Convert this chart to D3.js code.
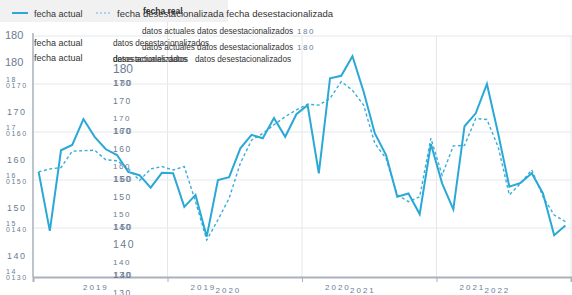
<!DOCTYPE html>
<html>
<head>
<meta charset="utf-8">
<script src="https://cdn.jsdelivr.net/npm/d3@7"></script>
<style>
body { margin: 0; background: #fff; }
svg { display: block; font-family: "Liberation Sans", Arial, sans-serif; }
.lbl { fill: #6b7c93; letter-spacing: 1.5px; font-size: 8px; }
.txt { fill: #333; font-size: 8.2px; }
</style>
</head>
<body>
<svg id="chart" width="572" height="295"></svg>
<script>
// monthly values, Jan 2019 .. Dec 2022
const years = [2019, 2020, 2021, 2022]
const yTicks = [180, 170, 160, 150, 140, 130]
const actual = [
    151.7, 139.4, 156.2, 157.3, 162.7, 159.0, 156.4, 155.2, 151.7, 151.0, 148.4, 151.5,
    151.4, 144.4, 146.9, 138.2, 150.0, 150.6, 156.6, 159.4, 158.7, 162.9, 159.0, 163.7,
    165.6, 151.4, 171.2, 171.7, 175.8, 168.4, 159.7, 155.2, 146.5, 147.2, 142.9, 157.5,
    149.3, 143.9, 161.2, 163.9, 170.0, 159.7, 148.6, 149.4, 151.4, 147.2, 138.5, 140.5
]
const adjusted = [
    151.7, 152.3, 152.6, 156.0, 156.1, 156.2, 154.2, 154.0, 152.4, 149.9, 152.3, 152.8,
    152.1, 152.8, 145.5, 137.5, 141.7, 146.2, 153.5, 158.3, 159.7, 161.5, 163.2, 164.6,
    165.8, 165.6, 167.0, 170.5, 168.7, 165.6, 157.6, 154.5, 146.9, 145.5, 146.5, 158.7,
    151.0, 157.1, 157.2, 162.8, 162.6, 156.9, 146.9, 149.3, 152.1, 146.5, 142.7, 141.3
]
const legendLabels = ['fecha actual', 'fecha desestacionalizada']

const svg = d3.select('#chart')
const color = '#2aa8d6'

const x = d3.scaleLinear().domain([2019, 2023]).range([33, 571])
const y = d3.scaleLinear().domain([130, 180]).range([276, 36])
const t = i => 2019 + (i + 0.5) / 12

// legend band
svg.append('rect').attr('x', 0).attr('y', 0).attr('width', 228).attr('height', 22).attr('fill', '#f1f1f1')

// grid
svg.append('g').selectAll('line').data(yTicks.slice(0, -1)).join('line')
    .attr('x1', 33).attr('x2', 572)
    .attr('y1', d => y(d)).attr('y2', d => y(d))
    .attr('stroke', '#e4e7eb')
svg.append('g').selectAll('line').data([2020, 2021, 2022, 2023]).join('line')
    .attr('x1', d => x(d)).attr('x2', d => x(d))
    .attr('y1', d => d === 2020 ? 22 : 36).attr('y2', 277)
    .attr('stroke', '#e4e7eb')

// axes
const xAxis = svg.append('g').attr('transform', 'translate(0,277)')
    .call(d3.axisBottom(x).tickValues([2019, 2020, 2021, 2022, 2023]).tickSize(5).tickFormat(''))
xAxis.select('.domain').attr('stroke', '#a9b1bb').attr('stroke-width', 2)
xAxis.selectAll('.tick line').attr('stroke', '#a9b1bb')
svg.append('line').attr('x1', 33).attr('x2', 33).attr('y1', 33).attr('y2', 277)
    .attr('stroke', '#a9b1bb').attr('stroke-width', 1.5)

// lines
const line = vals => d3.line().x((d, i) => x(t(i))).y(d => y(d))(vals)
svg.append('path').attr('d', line(adjusted)).attr('fill', 'none')
    .attr('stroke', '#3aaed8').attr('stroke-width', 1.4).attr('stroke-dasharray', '3,2.5')
svg.append('path').attr('d', line(actual)).attr('fill', 'none')
    .attr('stroke', color).attr('stroke-width', 2)

// legend
svg.append('line').attr('x1', 12).attr('x2', 28).attr('y1', 13).attr('y2', 13).attr('stroke', color).attr('stroke-width', 2)
svg.append('line').attr('x1', 96).attr('x2', 112).attr('y1', 13).attr('y2', 13)
    .attr('stroke', '#8fcbe6').attr('stroke-width', 1.5).attr('stroke-dasharray', '2,2')
const txt = (s, px, py, cls = 'txt') => svg.append('text').attr('class', cls).attr('x', px).attr('y', py).text(s)
txt(legendLabels[0], 34, 17).style('font-size', '9px')
txt(legendLabels[1] + ' ' + legendLabels[1], 117, 17).style('font-size', '9.5px')
txt('fecha real', 143, 14).attr('font-weight', 'bold').style('font-size', '8.5px')

// stray label rows
txt('datos actuales datos desestacionalizados', 142, 34)
txt('datos actuales datos desestacionalizados', 142, 50)
txt(legendLabels[0], 34, 46).style('font-size', '9px')
txt(legendLabels[0], 34, 61).style('font-size', '9px')
txt('datos desestacionalizados', 113, 46)
txt('datos actuales datos', 113, 62)
txt('desestacionalizados', 113, 62)
txt('datos desestacionalizados', 195, 62)
txt(yTicks[0], 297, 34, 'lbl')
txt(yTicks[0], 297, 50, 'lbl')

// left tick labels
txt(yTicks[0], 5, 39, 'lbl').style('font-size', '11px').style('letter-spacing', '0px')
txt(yTicks[0], 5, 66, 'lbl').style('font-size', '11px').style('letter-spacing', '0px')
yTicks.slice(1).forEach(v => {
    txt(String(v + 10).slice(0, 2), 6, y(v) - 2, 'lbl').style('font-size', '7px')
    txt('0' + v, 6, y(v) + 4, 'lbl').style('font-size', '7px')
})
yTicks.slice(1, -1).forEach(v => {
    txt(v, 7, y(v) + 31, 'lbl').style('font-size', '9px')
})

// middle tick labels
txt(yTicks[0], 113, 73, 'lbl').style('font-size', '12px').style('letter-spacing', '0px')
yTicks.slice(1).forEach(v => {
    txt(v + 10, 114, y(v) + 2, 'lbl').style('font-size', '8.5px')
    txt(v, 113, y(v) + 2, 'lbl').style('font-size', '8.5px')
    txt(v, 113, y(v) + 20, 'lbl').style('font-size', v === 140 ? '10.5px' : '8.5px')
    txt(v, 113, y(v) + 37, 'lbl')
})

// year labels
txt(years[0], x(years[0]) + 50, 290, 'lbl').style('letter-spacing', '2px')
years.slice(1).forEach(yr => {
    txt(yr - 1, x(yr) + 23, 290, 'lbl').style('letter-spacing', '2px')
    txt(yr, x(yr) + 48, 293, 'lbl').style('letter-spacing', '2px')
})
</script>
</body>
</html>
